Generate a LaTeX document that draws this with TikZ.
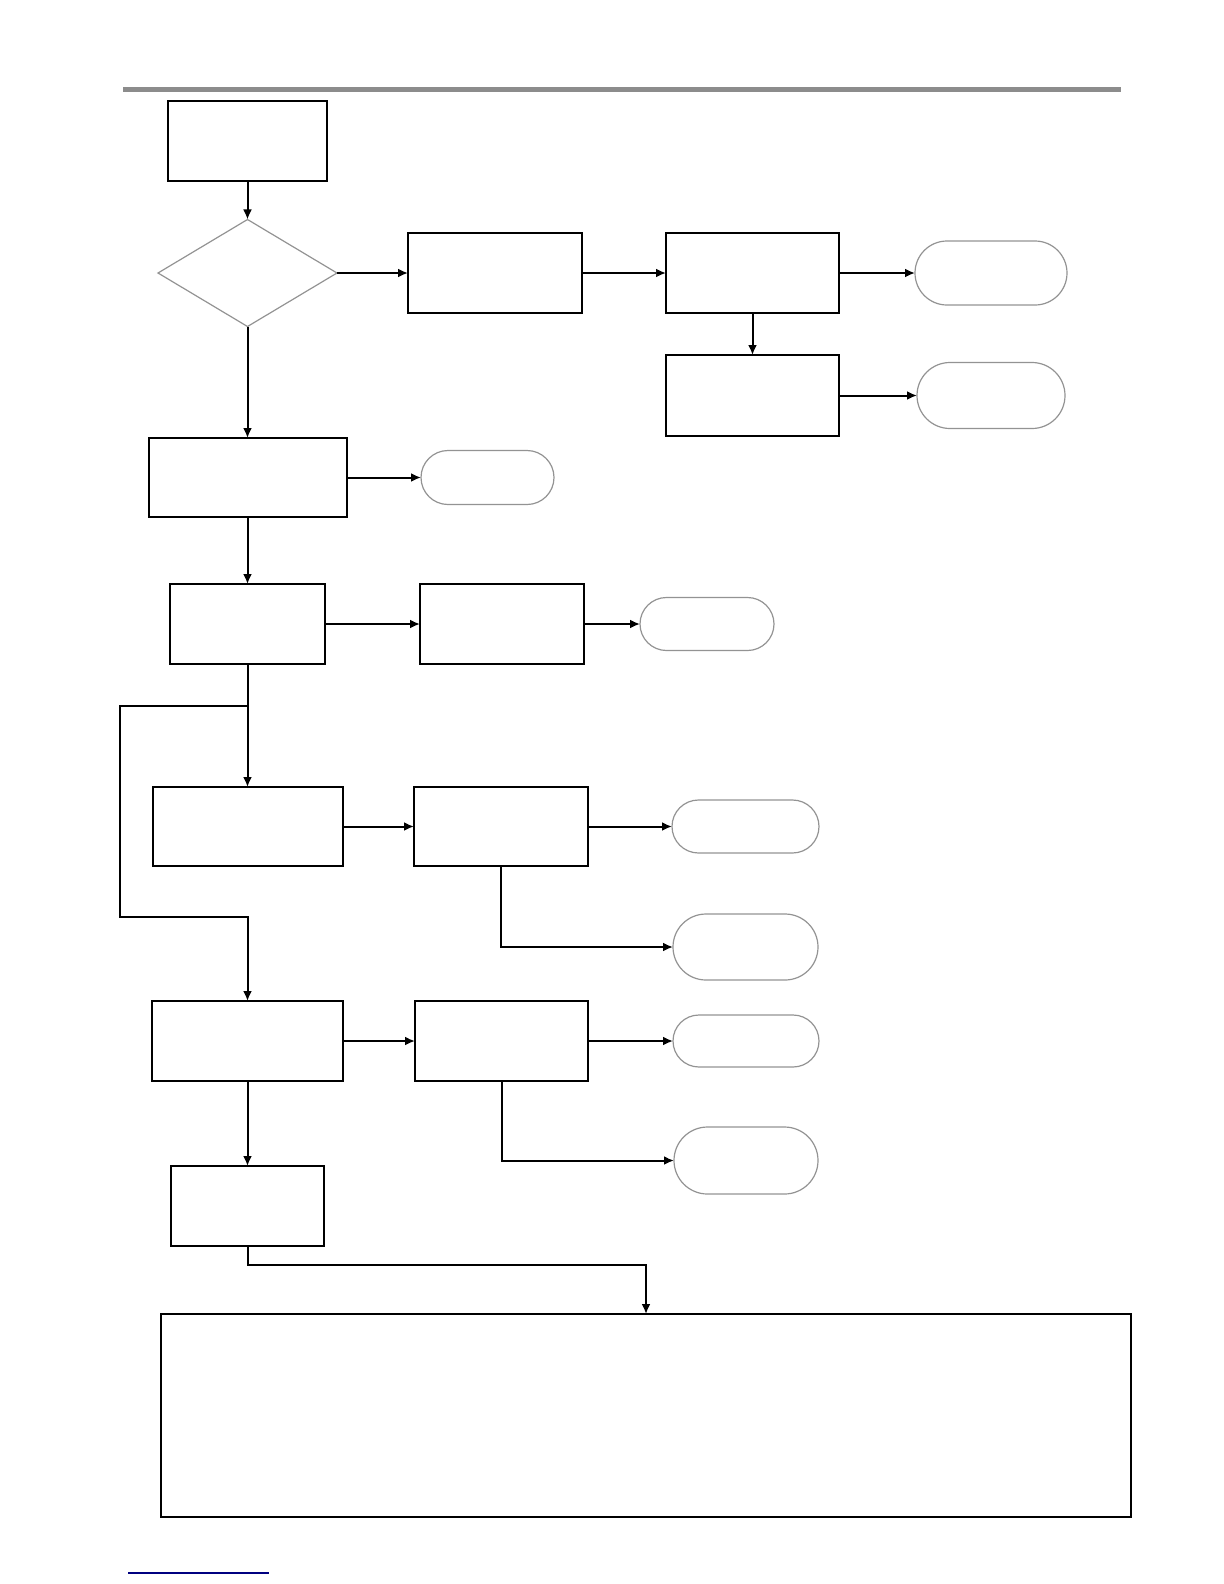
\documentclass[tikz,border=0pt]{standalone}
\usetikzlibrary{arrows.meta,shapes.geometric,shapes.misc}
\begin{document}
\begin{tikzpicture}[
    x=0.5bp, y=-0.5bp,
    sz/.style 2 args={minimum width=#1*0.5bp, minimum height=#2*0.5bp},
    box/.style={draw, line width=1bp, inner sep=0pt, outer sep=0pt},
    term/.style={rounded rectangle, draw=gray!85, line width=0.6bp,
                 inner sep=0pt, outer sep=0pt},
    decide/.style={diamond, draw=gray!85, line width=0.6bp,
                   inner sep=0pt, outer sep=0pt},
    link/.style={line width=1bp, -{Latex[length=5bp, width=4.5bp]}},
    wire/.style={line width=1bp}
  ]
  \useasboundingbox (0,0) rectangle (1224,1584);
  % header and footer rules
  \draw[gray!90, line width=2.5bp] (123,89.5) -- (1121,89.5);
  \draw[blue!50!black, line width=0.7bp] (128,1573) -- (269,1573);

  % main column
  \node[box, sz={159}{80}] (start) at (247.5,141) {};
  \node[decide, sz={179}{107}] (check) at (247.5,273) {};
  \node[box, sz={198}{79}] (stepa) at (247.5,477.5) {};
  \node[box, sz={155}{80}] (stepb) at (247.5,624) {};
  \node[box, sz={190}{79}] (stepc) at (247.5,826.5) {};
  \node[box, sz={191}{80}] (stepd) at (247.5,1041) {};
  \node[box, sz={153}{80}] (stepe) at (247.5,1206) {};
  \node[box, sz={970}{203}] (report) at (646,1415.5) {};

  % side boxes
  \node[box, sz={174}{80}] (sidea) at (495,273) {};
  \node[box, sz={173}{80}] (sideb) at (752.5,273) {};
  \node[box, sz={173}{81}] (sidec) at (752.5,395.5) {};
  \node[box, sz={164}{80}] (sided) at (502,624) {};
  \node[box, sz={174}{79}] (sidee) at (501,826.5) {};
  \node[box, sz={173}{80}] (sidef) at (501.5,1041) {};

  % end states
  \node[term, sz={152}{64}] (enda) at (991,273) {};
  \node[term, sz={148}{66}] (endb) at (991,395.5) {};
  \node[term, sz={133}{54}] (endc) at (487.5,477.5) {};
  \node[term, sz={134}{53}] (endd) at (707,624) {};
  \node[term, sz={147}{53}] (ende) at (745.5,826.5) {};
  \node[term, sz={145}{66}] (endf) at (745.5,947) {};
  \node[term, sz={146}{52}] (endg) at (746,1041) {};
  \node[term, sz={144}{67}] (endh) at (746,1160.5) {};

  % connectors
  \draw[link] (start) -- (check);
  \draw[link] (check) -- (stepa);
  \draw[link] (check) -- (sidea);
  \draw[link] (sidea) -- (sideb);
  \draw[link] (sideb) -- (enda);
  \draw[link] (sideb) -- (sidec);
  \draw[link] (sidec) -- (endb);
  \draw[link] (stepa) -- (endc);
  \draw[link] (stepa) -- (stepb);
  \draw[link] (stepb) -- (sided);
  \draw[link] (sided) -- (endd);

  % split below stepb
  \coordinate (fork) at (stepb.south |- 0,706);
  \coordinate (back) at (120,917);
  \draw[wire] (stepb.south) -- (fork);
  \draw[link] (fork) -- (stepc);
  \draw[link] (fork) -| (back) -| (stepd.north);

  \draw[link] (stepc) -- (sidee);
  \draw[link] (sidee) -- (ende);
  \draw[link] (sidee.south) |- (endf.west);
  \draw[link] (stepd) -- (sidef);
  \draw[link] (sidef) -- (endg);
  \draw[link] (sidef.south) |- (endh.west);
  \draw[link] (stepd) -- (stepe);

  \coordinate (turn) at (stepe.south |- 0,1265);
  \draw[link] (stepe.south) -- (turn) -| (report.north);
\end{tikzpicture}
\end{document}
